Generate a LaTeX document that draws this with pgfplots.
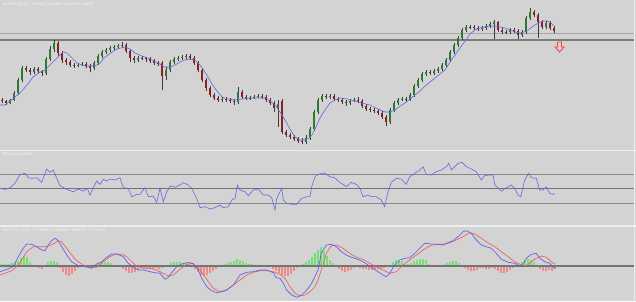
\documentclass[border=0pt]{standalone}
\usepackage{pgfplots}
\pgfplotsset{compat=1.18}
\usepackage{pgfplotstable}
\usepackage{fontspec}
\setmainfont{Liberation Sans}
\newfontfamily\dejavu{DejaVu Sans}
\definecolor{bg}{HTML}{D3D3D3}
\definecolor{sep}{HTML}{EDEDED}
\definecolor{wick}{HTML}{3C3C3C}
\definecolor{bull}{HTML}{2F7A2F}
\definecolor{bear}{HTML}{8C2020}
\definecolor{maBlue}{HTML}{6464E6}
\definecolor{rsiBlue}{HTML}{6666E4}
\definecolor{lvl}{HTML}{878787}
\definecolor{thinline}{HTML}{A6A6A6}
\definecolor{thickline}{HTML}{7C7C7C}
\definecolor{zero}{HTML}{747474}
\definecolor{macdBlue}{HTML}{5C5CEE}
\definecolor{macdRed}{HTML}{EE5C5C}
\definecolor{histG}{HTML}{74E074}
\definecolor{histR}{HTML}{EE8A8A}
\definecolor{arrowRed}{HTML}{FF3B3B}
\definecolor{lbl}{HTML}{F4F4F4}

% candles: x, open, high, low, close (pixel rows from the top of the price pane)
\pgfplotstableread{
x o h l c
2 100 98 103 101
6 101 100 105 103
10 103 99 104 100
14 100 91 101 93
18 93 78 95 80
22 80 66 82 68
26 68 66 72 70
30 70 68 75 72
34 72 67 74 69
38 69 67 73 71
42 71 70 76 73
46 73 57 75 59
50 59 46 61 49
54 49 40 52 43
58 43 41 56 53
62 53 51 63 60
66 60 58 65 62
70 62 60 67 65
74 65 63 68 66
78 66 63 67 65
82 65 62 66 64
86 64 62 68 66
90 66 64 72 68
94 68 61 70 63
98 63 54 65 56
102 56 50 58 52
106 52 48 54 50
110 50 46 52 48
114 48 45 50 47
118 47 44 49 46
122 46 42 48 45
126 45 43 53 51
130 51 49 62 58
134 58 56 63 60
138 60 56 62 58
142 58 56 60 58
146 58 57 62 59
150 59 57 63 61
154 61 59 65 63
158 63 61 66 63
162 63 61 90 76
166 76 67 80 70
170 70 60 72 62
174 62 57 64 59
178 59 56 61 58
182 58 55 60 57
186 57 54 59 56
190 56 54 60 58
194 58 56 65 63
198 63 61 72 70
202 70 68 82 80
206 80 78 91 88
210 88 86 97 95
214 95 93 100 98
218 98 96 102 100
222 100 97 102 99
226 99 97 102 100
230 100 98 103 101
234 101 99 105 102
238 102 87 104 92
242 92 90 99 97
246 97 95 100 98
250 98 96 100 98
254 98 95 99 97
258 97 94 98 96
262 96 94 99 97
266 97 95 102 100
270 100 98 105 103
274 103 101 112 108
278 108 100 127 104
282 101 99 134 132
286 132 130 137 135
290 135 133 139 137
294 137 135 141 139
298 139 137 143 141
302 141 138 144 142
306 142 135 144 138
310 138 127 140 129
314 129 110 131 112
318 112 98 114 100
322 100 94 102 96
326 96 94 99 97
330 97 94 99 96
334 96 94 101 99
338 99 97 102 100
342 100 98 104 102
346 102 100 106 103
350 103 99 105 101
354 101 98 102 100
358 100 97 103 101
362 101 99 108 106
366 106 104 111 109
370 109 107 112 110
374 110 108 113 111
378 111 109 115 113
382 113 111 119 117
386 117 115 126 122
390 122 108 124 110
394 110 101 112 103
398 103 98 105 100
402 100 97 101 99
406 99 97 102 99
410 99 93 101 95
414 95 84 97 86
418 86 78 88 80
422 80 72 82 74
426 74 70 76 72
430 72 70 75 73
434 73 69 75 71
438 71 67 73 69
442 69 63 71 65
446 65 58 67 60
450 60 50 62 52
454 52 43 54 45
458 45 36 47 38
462 38 28 40 30
466 30 25 32 27
470 27 25 29 27
474 27 25 30 28
478 28 26 31 29
482 29 26 31 28
486 28 24 30 26
490 26 22 28 24
494 24 20 39 22
498 22 21 32 30
502 30 28 34 32
506 32 30 34 32
510 32 28 34 30
514 30 28 33 31
518 31 29 39 35
522 35 30 37 32
526 32 16 34 18
530 18 8 20 12
534 12 10 17 15
538 15 13 38 22
542 22 20 29 27
546 27 21 29 23
550 23 21 30 28
554 28 26 33 31
}\candles

\pgfplotstableread{
x y
0 105
5 105
10 101
20 93
27 85
33 77
40 72
45 70
50 65
55 60
60 55
63 52
67 53
70 56
77 63
85 66
95 66
100 63
104 58
108 55
112 52
117 49
125 47
130 49
135 53
142 56
150 59
158 63
165 67
170 67
175 65
180 62
185 60
190 59
195 60
200 65
205 72
212 84
217 91
222 97
228 99
235 100
242 99
250 98
258 98
265 98
270 101
275 105
280 112
285 120
290 129
295 137
300 140
305 140
309 138
312 135
316 127
320 118
325 110
330 103
335 100
340 98
347 99
355 101
362 103
370 105
378 109
385 112
390 112
395 110
400 106
405 103
410 99
415 95
420 91
424 87
430 82
435 78
440 74
445 70
450 62
455 55
462 45
466 40
470 34
475 30
480 28
485 27
490 26
495 26
500 27
505 28
510 30
515 32
520 33
524 32
528 30
532 27
535 25
540 22
545 21
548 21
552 24
555 27
}\ma

\pgfplotstableread{
x r
0 50.2
5 48.8
10 51.1
15 57.1
20 69.5
25 70.9
28.3 64.9
31.7 64.0
36.7 64.9
41.7 58.5
46.7 76.9
50 72.3
53.3 75.5
56.7 64.0
60 53.9
66.7 48.8
73.3 45.6
78.3 49.3
83.3 46.5
87.3 50.2
90 41.0
93.3 51.1
96.7 60.3
100 55.7
103.3 62.6
106.7 60.3
110 63.1
115 61.7
120 64.9
123.3 51.1
128.3 50.2
131.7 38.7
136.7 41.9
140 41.9
145 51.1
148.3 38.7
153.3 39.6
156.7 30.9
160 50.2
163.3 31.8
166.7 45.6
170.7 53.9
175 51.6
180 54.8
183.3 58.0
188.3 54.8
191.7 50.2
196.7 36.4
200 23.6
205 24.9
210 21.7
215 23.6
220 27.2
223.3 23.6
228.3 24.9
231.7 34.1
235 36.4
237.3 54.8
240 47.9
245 45.6
248.3 40.1
253.3 47.9
258.3 49.3
263.3 41.0
268.3 41.0
271.7 37.4
275 20.3
276.7 36.4
281.7 50.2
283.3 34.1
286.7 29.5
291.7 28.2
296.7 28.2
301.7 36.4
306.7 38.7
310 38.7
311.7 52.5
315 66.3
318 69.5
324.7 71.4
329.7 66.3
334.7 64.9
339.7 58.5
343 55.7
346.3 52.5
351.3 58.5
356.3 55.7
359.7 51.1
363 38.7
368 41.0
371.3 38.7
376.3 38.7
381.3 34.1
384.7 24.9
388 45.6
391.3 58.5
396.3 64.0
401.3 63.1
406.3 55.7
409.7 66.3
414.7 70.9
419.7 75.5
423 80.1
426.3 69.5
431.3 68.6
436.3 73.2
441.3 75.5
446.3 80.1
448.7 84.7
451.3 75.5
454.7 80.1
458 84.7
462 86.1
466.3 80.1
471.3 76.9
476.3 73.2
481.3 61.7
484.7 67.7
489.7 68.6
493 68.6
494.7 54.8
498 51.1
501.3 46.5
506.3 51.1
511.3 54.8
514.7 50.2
518 41.0
520.7 38.7
524.7 61.7
528.7 70.9
531.3 64.9
536.3 64.0
539.7 47.9
543 47.9
546.3 52.5
549.7 43.3
553 41.9
554.7 43.3
}\rsi

\pgfplotstableread{
x m
0 -5.7
6.7 -3.3
13.3 -0.7
18.3 9.3
23.3 17.7
26.7 22
31.7 21.7
36.7 19.3
41.7 16
45 15.3
48.3 21
51.7 25.3
55 27.7
58.3 25.3
61.7 19.3
66.7 11
71.7 4.3
78.3 0.3
85 -0.7
91.7 -2.3
96.7 2
101.7 4.3
106.7 8.7
111.7 12
116.7 12
123.3 9.3
128.3 2.7
133.3 -1.3
138.3 -4
143.3 -4
150 -5.7
155 -6.7
160 -7.3
165 -13.3
168.3 -11.3
171.7 -6.7
176.7 -0.7
181.7 2
186.7 3.3
190 3.3
193.3 2
198.3 -4
201.7 -12.3
206.7 -20.7
211.7 -24.7
216.7 -26.7
221.7 -25.7
226.7 -24
233.3 -19
240 -9
246.7 -6.3
253.3 -5.7
260 -4
266.7 -4
273.3 -6.7
276 -11.7
280 -12.3
283.3 -17.3
286.7 -24
291.7 -29
296.7 -31.3
301.7 -29
306.7 -24
311.7 -17.3
315 -10.7
318 -4
321.3 12.7
326.3 21
331.3 21.7
336.3 19.3
341.3 14.3
346.3 11
351.3 8.7
358 6.7
363 4.3
368 1
373 -2.3
378 -5.7
383 -9
386.3 -10.7
389.7 -7.3
394.7 1
399.7 6
404.7 7.7
409.7 8.3
414.7 12.7
419.7 17.7
424.7 22.7
431.3 22
438 21.7
443 21
448 23.3
453 25.3
458 29.3
463 34.3
466.3 35.3
471.3 32.7
476.3 26
481.3 21
486.3 19.3
491.3 17.7
496.3 12.7
501.3 6.7
508 3.7
514.7 2.7
521.3 -0.7
526.3 7.7
531.3 11.7
536.3 12.7
539.7 7.7
544.7 4.3
549.7 2.7
554.7 -2.3
}\macd

\pgfplotstableread{
x s
0 -9
6.7 -6.7
13.3 -4
20 3.3
26.7 14.3
33.3 19.3
40 19.3
46.7 19.3
53.3 22
58.3 25.3
61.7 24.3
66.7 17.7
71.7 11
76.7 5.3
83.3 1
90 -1.3
96.7 -1.3
103.3 4.3
110 9.3
115 11.7
121.7 11.7
126.7 9.3
131.7 4.3
136.7 0
143.3 -2.3
150 -2.3
156.7 -4
163.3 -7.3
168.3 -10
173.3 -9
180 -3.3
186.7 1.7
193.3 2.7
200 -4
206.7 -13.3
213.3 -22.3
220 -25.7
226.7 -24
233.3 -19
240 -14
246.7 -9
253.3 -6.3
260 -4.7
266.7 -4.7
273.3 -5.7
280 -8.3
285 -12.3
290 -20.7
295 -27.3
300 -30
305 -29
310 -25.7
315 -20.7
318 -14
321.3 -4
326.3 12.7
331.3 20.3
336.3 21
343 17.7
349.7 12.7
356.3 8.7
363 6.7
369.7 2.7
376.3 -0.7
383 -4
389.7 -7.3
396.3 -5.7
403 1
409.7 6
416.3 11
423 16
429.7 20
436.3 21.7
443 21.7
449.7 23.3
456.3 26
463 29.3
469.7 33.3
474.7 32
481.3 27.7
488 23.3
494.7 19.3
501.3 14.3
508 9.3
514.7 4.3
521.3 1
526.3 0
531.3 4.3
536.3 7.7
541.3 10
546.3 8.7
551.3 4.3
554.7 2
}\signal

\pgfplotstableread{
x h
0 2
3 2
6 2
9 2.5
12 3
15 4
18 5
21 8
24 10
27 9
30 4
33 0.5
36 -1
39 -2
42 -3
45 -1
48 4
51 5
54 5
57 4
60 -2
63 -6
66 -9
69 -10
72 -8
75 -5
78 -2
81 0.5
84 -1
87 1
90 -1
93 1
96 2
99 3
102 4
105 4
108 4
111 3
114 1
117 0.3
120 -1
123 -3
126 -5
129 -7
132 -7
135 -6
138 -4
141 -2
144 -2
147 -3
150 -3
153 -3
156 -2
159 -3
162 -2
165 -1
168 1
171 3
174 4
177 4
180 4
183 3
186 3
189 2
192 1
195 -3
198 -6
201 -9
204 -10
207 -9
210 -7
213 -5
216 -3
219 -1
222 1
225 2
228 3
231 4
234 5
237 7
240 6
243 5
246 3
249 2
252 2
255 1
258 1
261 1
264 1
267 0.3
270 -1
273 -3
276 -5
279 -7
282 -9
285 -10
288 -10
291 -8
294 -5
297 -2
300 0.3
303 2
306 4
309 6
312 9
315 13
318 16
321 19
324 15
327 10
330 6
333 3
336 -1
339 -3
342 -5
345 -6
348 -5
351 -4
354 -2
357 -1
360 -2
363 -3
366 -3
369 -4
372 -4
375 -4
378 -3
381 -3
384 -2
387 -1
390 1
393 4
396 6
399 6
402 5
405 2
408 2
411 3
414 5
417 6
420 7
423 7
426 6
429 2
432 -1
435 -1
438 0.3
441 1
444 2
447 3
450 4
453 5
456 5
459 3
462 1
465 -2
468 -4
471 -5
474 -5
477 -4
480 -2
483 -2
486 -3
489 -3
492 -2
495 -3
498 -5
501 -7
504 -7
507 -6
510 -4
513 -2
516 -1
519 1
522 4
525 6
528 7
531 6
534 4
537 -1
540 -3
543 -5
546 -5
549 -4
552 -5
555 -3
}\hist

\begin{document}
\begin{tikzpicture}
\fill[bg] (0pt,0pt) rectangle (636pt,301pt);

% ---------------- price pane ----------------
\begin{axis}[at={(0pt,151pt)}, anchor=south west, scale only axis,
  width=634pt, height=150pt, xmin=0, xmax=634, ymin=0, ymax=150, hide axis]
\addplot[thinline, line width=0.8pt] coordinates {(0,116.7) (634,116.7)};
\addplot[thickline, line width=1.8pt] coordinates {(0,110) (634,110)};
% wicks
\addplot[draw=none, mark=none,
  error bars/.cd, y dir=plus, y explicit, error mark=none,
  error bar style={draw=wick, line width=0.6pt}]
  table[x=x, y expr=150-\thisrow{l}, y error plus expr=\thisrow{l}-\thisrow{h}] {\candles};
% bullish bodies
\addplot[draw=none, mark=none,
  restrict expr to domain={\thisrow{o}-\thisrow{c}}{0.5:1000},
  error bars/.cd, y dir=plus, y explicit, error mark=none,
  error bar style={draw=bull, line width=2pt}]
  table[x=x, y expr=150-\thisrow{o}, y error plus expr=\thisrow{o}-\thisrow{c}] {\candles};
% bearish bodies
\addplot[draw=none, mark=none,
  restrict expr to domain={\thisrow{c}-\thisrow{o}}{0.5:1000},
  error bars/.cd, y dir=plus, y explicit, error mark=none,
  error bar style={draw=bear, line width=2pt}]
  table[x=x, y expr=150-\thisrow{c}, y error plus expr=\thisrow{c}-\thisrow{o}] {\candles};
% doji bodies
\addplot[draw=none, mark=none,
  restrict expr to domain={\thisrow{c}-\thisrow{o}}{-0.4:0.4},
  error bars/.cd, y dir=plus, y explicit, error mark=none,
  error bar style={draw=wick, line width=2pt}]
  table[x=x, y expr=150-\thisrow{c}-0.4, y error plus expr=0.8] {\candles};
% moving average
\addplot[maBlue, line width=0.6pt] table[x=x, y expr=150-\thisrow{y}] {\ma};
% down arrow
\addplot[arrowRed, line width=0.8pt] coordinates {(557.5,108) (561.5,108) (561.5,103) (564,103) (559.5,98) (555,103) (557.5,103) (557.5,108)};
\end{axis}

% ---------------- RSI pane ----------------
\begin{axis}[at={(0pt,76.25pt)}, anchor=south west, scale only axis,
  width=634pt, height=72.5pt, xmin=0, xmax=634, ymin=0, ymax=100, hide axis]
\addplot[lvl, line width=0.8pt] coordinates {(0,70) (634,70)};
\addplot[lvl!85!black, line width=0.8pt] coordinates {(0,50) (634,50)};
\addplot[lvl, line width=0.8pt] coordinates {(0,30) (634,30)};
\addplot[rsiBlue, line width=0.6pt] table[x=x, y=r] {\rsi};
\end{axis}

% ---------------- MACD pane ----------------
\begin{axis}[at={(0pt,0pt)}, anchor=south west, scale only axis,
  width=634pt, height=74pt, xmin=0, xmax=634, ymin=-35, ymax=39, hide axis]
\addplot[ycomb, histG, line width=1.5pt, restrict y to domain=0:100] table[x=x, y=h] {\hist};
\addplot[ycomb, histR, line width=1.5pt, restrict y to domain=-100:0] table[x=x, y=h] {\hist};
\addplot[zero, line width=1.2pt] coordinates {(0,0) (634,0)};
\addplot[macdRed, line width=0.65pt] table[x=x, y=s] {\signal};
\addplot[macdBlue, line width=0.65pt] table[x=x, y=m] {\macd};
\end{axis}

% pane separators and right edge
\draw[sep, line width=1.5pt] (0pt,150.5pt) -- (636pt,150.5pt);
\draw[sep, line width=1.5pt] (0pt,75.2pt) -- (636pt,75.2pt);
\draw[sep, line width=1pt] (634.8pt,0pt) -- (634.8pt,301pt);

% pane labels
\node[anchor=west, inner sep=0pt, text=lbl, font=\fontsize{4}{5}\selectfont] at (3pt,296.8pt) {{\dejavu ▾} USDCAD,H1\ \ 1.34542 1.34584 1.34483 1.34559};
\node[anchor=west, inner sep=0pt, text=lbl, font=\fontsize{4}{5}\selectfont] at (2pt,146.5pt) {RSI(14) 43.4950};
\node[anchor=west, inner sep=0pt, text=lbl, font=\fontsize{4}{5}\selectfont] at (2pt,71pt) {MACD(12,26,9) -0.000048 -0.000066 0.000000 -0.000018};

\pgfresetboundingbox
\useasboundingbox (0pt,0pt) rectangle (636pt,301pt);
\end{tikzpicture}
\end{document}
